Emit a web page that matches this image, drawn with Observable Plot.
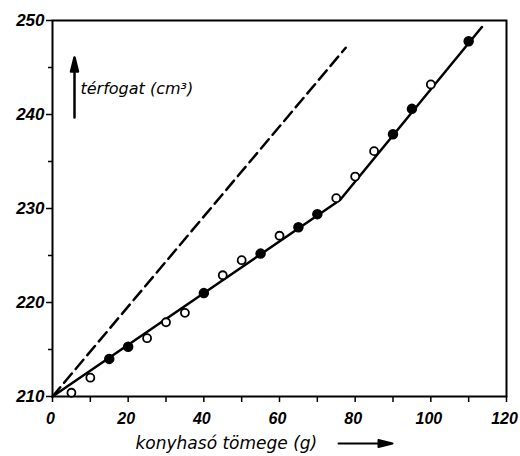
<!DOCTYPE html>
<html>
<head>
<meta charset="utf-8">
<script src="https://cdn.jsdelivr.net/npm/d3@7"></script>
<script src="https://cdn.jsdelivr.net/npm/@observablehq/plot@0.6"></script>
<style>
  html, body { margin: 0; padding: 0; background: #fff; }
</style>
</head>
<body>
<div id="chart"></div>
<script>
// Measured points (open circles)
const openX = [5, 10, 25, 30, 35, 45, 50, 60, 75, 80, 85, 100];
const openY = [210.4, 212.0, 216.2, 217.9, 218.9, 222.9, 224.5, 227.1, 231.1, 233.4, 236.1, 243.2];
// Measured points (filled dots)
const filledX = [15, 20, 40, 55, 65, 70, 90, 95, 110];
const filledY = [214.0, 215.3, 221.0, 225.2, 228.0, 229.4, 237.9, 240.6, 247.8];
// Fitted broken line (solid)
const fitX = [0, 76, 113.5];
const fitY = [210, 230.9, 249.3];
// Ideal additive line (dashed)
const dashX = [0, 77.5];
const dashY = [210, 247.1];
// Tick labels
const xTicks = [0, 20, 40, 60, 80, 100, 120];
const yTicks = [210, 220, 230, 240, 250];
const xLabel = "konyhasó tömege (g)";
const yLabel = "térfogat (cm³)";

const arrowShape = {
  draw(context, l) {
    context.moveTo(0, 0);
    context.lineTo(0, -l + 10);
    context.moveTo(0, -l);
    context.lineTo(-3.5, -l + 14);
    context.lineTo(3.5, -l + 14);
    context.closePath();
  }
};

const tickFont = "Liberation Sans";

const chart = Plot.plot({
  width: 520,
  height: 456,
  marginLeft: 52,
  marginTop: 20,
  marginRight: 14,
  marginBottom: 60,
  x: {domain: [0, 120]},
  y: {domain: [210, 250]},
  style: {fontFamily: "DejaVu Sans", fontStyle: "italic", background: "#fff", color: "#000"},
  marks: [
    Plot.frame({stroke: "#000", strokeWidth: 2}),
    Plot.axisX({ticks: d3.range(0, 121, 10), tickSize: 6, strokeWidth: 1.5, text: null, label: null}),
    Plot.axisX({ticks: xTicks, tickSize: 0, tickPadding: 16, fontSize: 16, fontWeight: "bold", fontFamily: tickFont, dx: -2, label: null}),
    Plot.axisY({ticks: d3.range(215, 250, 10), tickSize: 4, strokeWidth: 1.5, text: null, label: null}),
    Plot.axisY({ticks: yTicks, tickSize: 6, tickPadding: 2, strokeWidth: 1.5, fontSize: 17, fontWeight: "bold", fontFamily: tickFont, label: null}),
    Plot.line(dashX, {x: dashX, y: dashY, stroke: "#000", strokeWidth: 2.5, strokeDasharray: "12,6"}),
    Plot.line(fitX, {x: fitX, y: fitY, stroke: "#000", strokeWidth: 2.5}),
    Plot.dot(openX, {x: openX, y: openY, r: 4, stroke: "#000", strokeWidth: 1.8, fill: "#fff"}),
    Plot.dot(filledX, {x: filledX, y: filledY, r: 4.5, fill: "#000", stroke: "#000"}),
    Plot.text([yLabel], {frameAnchor: "top-left", dx: 28, dy: 73, textAnchor: "start", lineAnchor: "bottom", fontSize: 16, fill: "#000"}),
    Plot.vector([0], {frameAnchor: "top-left", dx: 22, dy: 97, length: 60, rotate: 0, anchor: "start", shape: arrowShape, stroke: "#000", fill: "#000", strokeWidth: 2.5}),
    Plot.text([xLabel], {frameAnchor: "bottom-left", dx: 83, dy: 52, textAnchor: "start", lineAnchor: "bottom", fontSize: 17, fill: "#000"}),
    Plot.vector([0], {frameAnchor: "bottom-left", dx: 286, dy: 47, length: 54, rotate: 90, anchor: "start", shape: arrowShape, stroke: "#000", fill: "#000", strokeWidth: 2})
  ]
});
document.getElementById("chart").appendChild(chart);
</script>
</body>
</html>
